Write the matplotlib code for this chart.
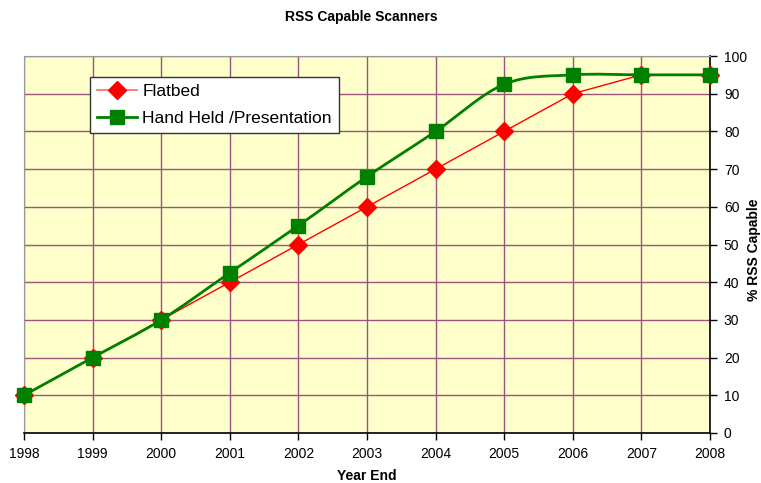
import matplotlib
matplotlib.use("Agg")
import matplotlib.pyplot as plt
from matplotlib.path import Path
from matplotlib.patches import PathPatch
from matplotlib.lines import Line2D
import numpy as np

plt.rcParams['font.family'] = ['Liberation Sans', 'DejaVu Sans']

years = [1998, 1999, 2000, 2001, 2002, 2003, 2004, 2005, 2006, 2007, 2008]
flatbed = [10, 20, 30, 40, 50, 60, 70, 80, 90, 95, 95]
handheld = [10, 20, 30, 42.5, 55, 68, 80, 92.5, 95, 95, 95]
yticks = list(range(0, 101, 10))

fig = plt.figure(figsize=(7.61, 4.83), dpi=100)
ax = fig.add_axes([24/761, 1-433/483, (710-24)/761, (433-56)/483])
ax.set_facecolor('#FFFFCC')
ax.set_xlim(years[0], years[-1])
ax.set_ylim(0, 100)
ax.set_xticks(years)
ax.set_yticks(yticks)
ax.grid(True, color='#99557a', linewidth=1.0, zorder=0)
ax.set_axisbelow(True)

ax.yaxis.tick_right()
ax.yaxis.set_label_position('right')
ax.tick_params(axis='both', direction='out', length=5, width=1, labelsize=10, colors='black')
ax.tick_params(axis='y', pad=5)
ax.tick_params(axis='x', pad=5)
for s in ['left', 'top']:
    ax.spines[s].set_color('#999999')
for s in ['bottom', 'right']:
    ax.spines[s].set_color('black')
    ax.spines[s].set_linewidth(1.2)

# Flatbed: straight lines
ax.plot(years, flatbed, color='red', linewidth=1, marker='D', markersize=9,
        markeredgecolor='red', markerfacecolor='red', zorder=3, clip_on=False)

# Hand held: smoothed (Excel-style Bezier)
x = np.array(years, dtype=float)
y = np.array(handheld, dtype=float)
verts = [(x[0], y[0])]
codes = [Path.MOVETO]
n = len(x)
for i in range(n - 1):
    p0 = np.array([x[max(i-1, 0)], y[max(i-1, 0)]])
    p1 = np.array([x[i], y[i]])
    p2 = np.array([x[i+1], y[i+1]])
    p3 = np.array([x[min(i+2, n-1)], y[min(i+2, n-1)]])
    c1 = p1 + (p2 - p0) / 6.0
    c2 = p2 - (p3 - p1) / 6.0
    verts += [tuple(c1), tuple(c2), tuple(p2)]
    codes += [Path.CURVE4] * 3
ax.add_patch(PathPatch(Path(verts, codes), facecolor='none', edgecolor='#008000',
                       linewidth=2, zorder=4))
ax.plot(years, handheld, linestyle='none', marker='s', markersize=10,
        markeredgecolor='#008000', markerfacecolor='#008000', zorder=5, clip_on=False)

h1 = Line2D([], [], color='#FF6666', linewidth=1.2, marker='D', markersize=9,
            markerfacecolor='red', markeredgecolor='red')
h2 = Line2D([], [], color='#008000', linewidth=2, marker='s', markersize=10,
            markerfacecolor='#008000', markeredgecolor='#008000')
leg = ax.legend([h1, h2], ['Flatbed', 'Hand Held /Presentation'],
                loc='upper left', bbox_to_anchor=((90-24)/686, (433-77)/377),
                fontsize=12.5, frameon=True, fancybox=False, framealpha=1,
                edgecolor='#333333', borderpad=0.42, labelspacing=0.65,
                handlelength=2.3, handletextpad=0.3, borderaxespad=0)
leg.get_frame().set_linewidth(1)

fig.text(361/761, 1-17/483, 'RSS Capable Scanners', ha='center', va='center',
         fontsize=10, fontweight='bold')
fig.text(367/761, 1-476/483, 'Year End', ha='center', va='center',
         fontsize=10, fontweight='bold')
fig.text(754/761, 1-250/483, '% RSS Capable', ha='center', va='center',
         rotation=90, fontsize=10, fontweight='bold')

fig.savefig('out.png', dpi=100)
